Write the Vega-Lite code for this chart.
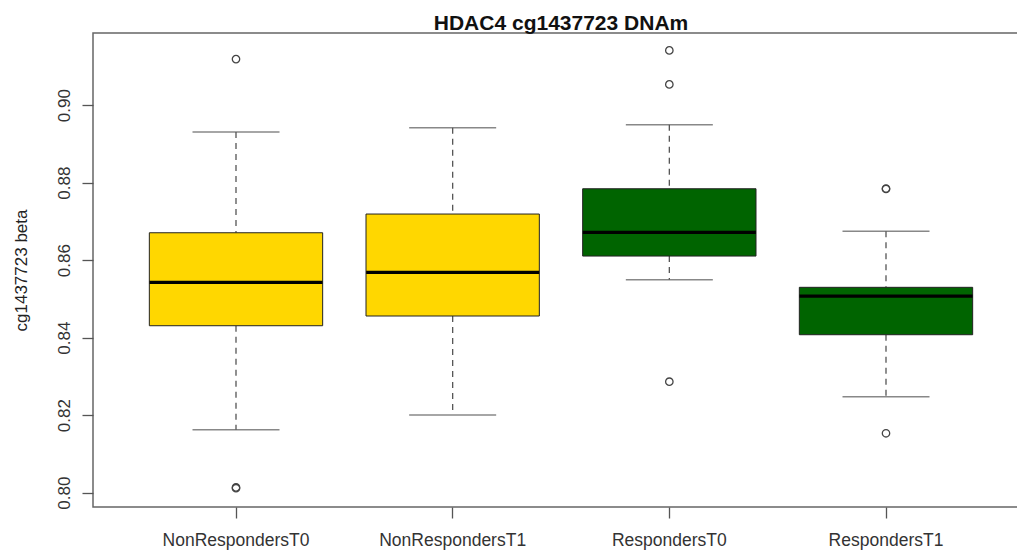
{
  "$schema": "https://vega.github.io/schema/vega-lite/v6.json",
  "width": 936,
  "height": 474,
  "autosize": {"type": "none"},
  "padding": {"left": 93, "top": 33, "right": -12, "bottom": 43},
  "background": "white",
  "title": {"text": "HDAC4 cg1437723 DNAm", "fontSize": 21, "fontWeight": "bold", "font": "Liberation Sans", "color": "#111", "anchor": "middle", "frame": "group", "baseline": "alphabetic", "offset": 4, "dy": 22},
  "config": {"view": {"stroke": "#666", "strokeWidth": 1.5}, "font": "Liberation Sans"},
  "datasets": {
    "stats": [
      {"group": "NonRespondersT0", "min": 0.81625, "q1": 0.84307, "median": 0.85427, "q3": 0.86706, "max": 0.89304},
      {"group": "NonRespondersT1", "min": 0.82004, "q1": 0.84558, "median": 0.85685, "q3": 0.87189, "max": 0.89415},
      {"group": "RespondersT0", "min": 0.85494, "q1": 0.86105, "median": 0.86717, "q3": 0.87841, "max": 0.89492},
      {"group": "RespondersT1", "min": 0.82476, "q1": 0.84075, "median": 0.85073, "q3": 0.85298, "max": 0.86742}
    ],
    "outliers": [
      {"group": "NonRespondersT0", "value": 0.91186},
      {"group": "NonRespondersT0", "value": 0.80135},
      {"group": "NonRespondersT0", "value": 0.80115},
      {"group": "RespondersT0", "value": 0.91411},
      {"group": "RespondersT0", "value": 0.90534},
      {"group": "RespondersT0", "value": 0.82863},
      {"group": "RespondersT1", "value": 0.87848},
      {"group": "RespondersT1", "value": 0.87835},
      {"group": "RespondersT1", "value": 0.81532}
    ]
  },
  "layer": [
    {
      "data": {"name": "stats"},
      "mark": {"type": "rule", "color": "#555", "strokeWidth": 1.3, "strokeDash": [6, 5]},
      "encoding": {
        "x": {"field": "group", "type": "nominal", "sort": ["NonRespondersT0", "NonRespondersT1", "RespondersT0", "RespondersT1"],
          "scale": {"paddingInner": 0.2, "paddingOuter": 0.26, "round": false},
          "axis": {"title": null, "labelAngle": 0, "labelFontSize": 17.5, "labelColor": "#333", "labelPadding": 13, "tickSize": 11, "tickColor": "#555", "tickWidth": 1.3, "domain": false, "labelFont": "Liberation Sans"}},
        "y": {"field": "max", "type": "quantitative",
          "scale": {"domain": [0.7963, 0.9186], "nice": false, "zero": false},
          "axis": {"title": "cg1437723 beta", "values": [0.8, 0.82, 0.84, 0.86, 0.88, 0.9], "format": ".2f", "grid": false, "domain": false,
            "labelAngle": -90, "labelAlign": "center", "labelBaseline": "alphabetic", "labelPadding": 13, "labelFontSize": 17, "labelColor": "#333", "labelFont": "Liberation Sans",
            "tickSize": 11, "tickColor": "#555", "tickWidth": 1.3,
            "titleFontSize": 17, "titleFontWeight": "normal", "titleColor": "#222", "titleFont": "Liberation Sans", "titleX": -71.5, "titleY": 237, "titleAngle": -90, "titleAlign": "center", "titleBaseline": "middle"}},
        "y2": {"field": "q3"}
      }
    },
    {
      "data": {"name": "stats"},
      "mark": {"type": "rule", "color": "#555", "strokeWidth": 1.3, "strokeDash": [6, 5]},
      "encoding": {
        "x": {"field": "group", "type": "nominal", "sort": ["NonRespondersT0", "NonRespondersT1", "RespondersT0", "RespondersT1"]},
        "y": {"field": "q1", "type": "quantitative"},
        "y2": {"field": "min"}
      }
    },
    {
      "data": {"name": "stats"},
      "mark": {"type": "tick", "color": "#555", "size": 87, "thickness": 1.5},
      "encoding": {
        "x": {"field": "group", "type": "nominal", "sort": ["NonRespondersT0", "NonRespondersT1", "RespondersT0", "RespondersT1"]},
        "y": {"field": "max", "type": "quantitative"}
      }
    },
    {
      "data": {"name": "stats"},
      "mark": {"type": "tick", "color": "#555", "size": 87, "thickness": 1.5},
      "encoding": {
        "x": {"field": "group", "type": "nominal", "sort": ["NonRespondersT0", "NonRespondersT1", "RespondersT0", "RespondersT1"]},
        "y": {"field": "min", "type": "quantitative"}
      }
    },
    {
      "data": {"name": "stats"},
      "mark": {"type": "bar", "stroke": "#222", "strokeWidth": 1, "opacity": 1},
      "encoding": {
        "x": {"field": "group", "type": "nominal", "sort": ["NonRespondersT0", "NonRespondersT1", "RespondersT0", "RespondersT1"]},
        "y": {"field": "q1", "type": "quantitative"},
        "y2": {"field": "q3"},
        "color": {"field": "group", "type": "nominal", "legend": null,
          "scale": {"domain": ["NonRespondersT0", "NonRespondersT1", "RespondersT0", "RespondersT1"], "range": ["#FFD700", "#FFD700", "#006400", "#006400"]}}
      }
    },
    {
      "data": {"name": "stats"},
      "mark": {"type": "tick", "color": "#000", "size": 173, "thickness": 3.2, "opacity": 1},
      "encoding": {
        "x": {"field": "group", "type": "nominal", "sort": ["NonRespondersT0", "NonRespondersT1", "RespondersT0", "RespondersT1"]},
        "y": {"field": "median", "type": "quantitative"}
      }
    },
    {
      "data": {"name": "outliers"},
      "mark": {"type": "point", "shape": "circle", "filled": false, "size": 55, "stroke": "#444", "strokeWidth": 1.3, "opacity": 1},
      "encoding": {
        "x": {"field": "group", "type": "nominal", "sort": ["NonRespondersT0", "NonRespondersT1", "RespondersT0", "RespondersT1"]},
        "y": {"field": "value", "type": "quantitative"}
      }
    }
  ]
}
